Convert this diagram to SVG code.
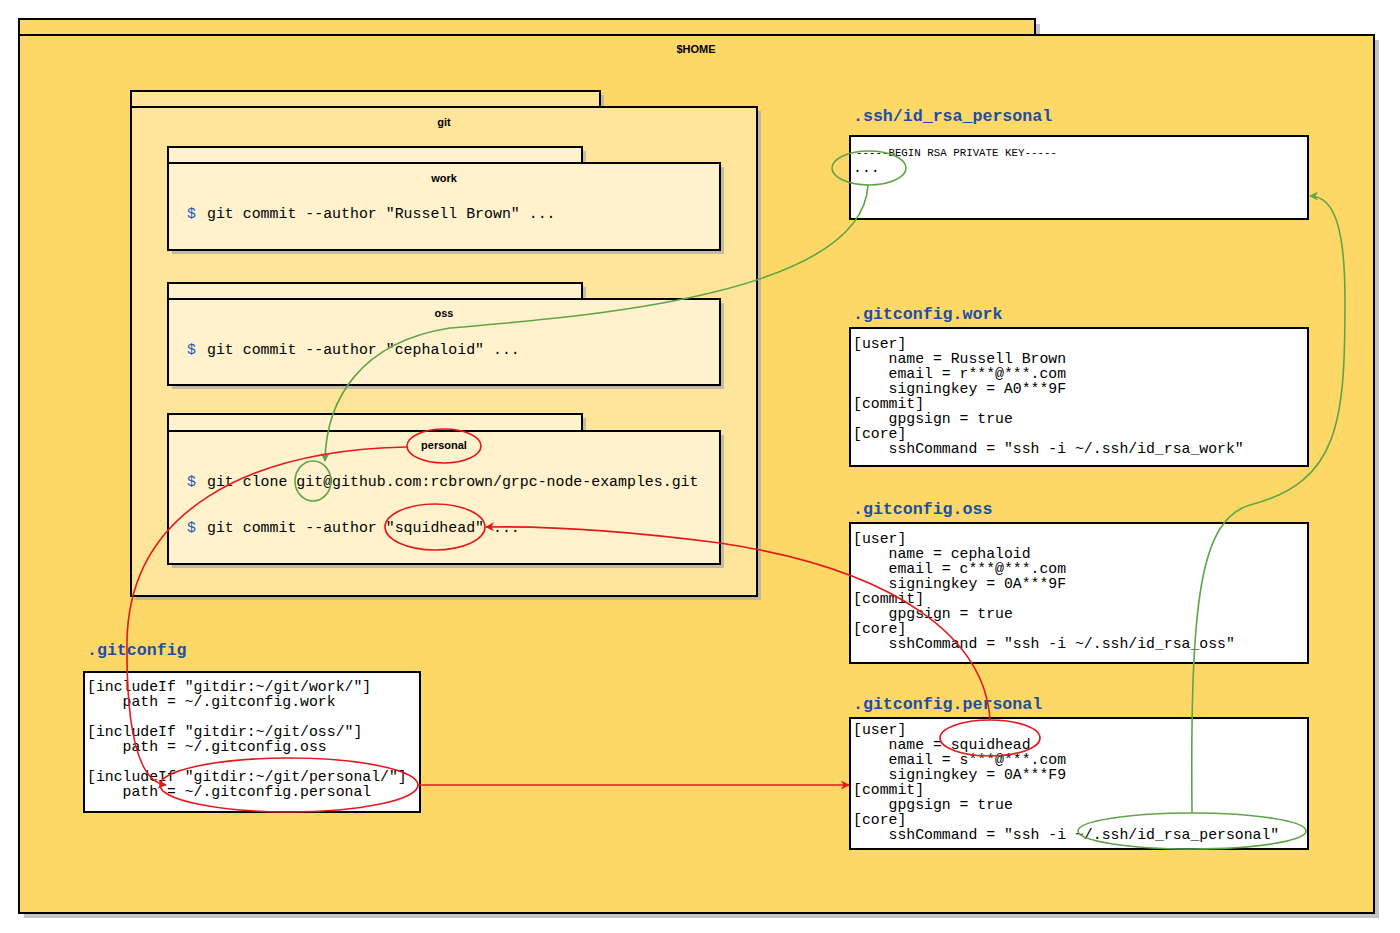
<svg xmlns="http://www.w3.org/2000/svg" width="1400" height="933" viewBox="0 0 1400 933">
<style>
.shadow{fill:#aaaaaa;opacity:0.7}
.home{fill:#FED866;stroke:#000;stroke-width:2}
.gitf{fill:#FFE599;stroke:#000;stroke-width:2}
.sub{fill:#FFF2CC;stroke:#000;stroke-width:2}
.box{fill:#fff;stroke:#000;stroke-width:2}
.flabel{font-family:"Liberation Sans",Arial,sans-serif;font-weight:bold;font-size:11px;text-anchor:middle;fill:#000}
.cmd{font-family:"Liberation Mono","Courier New",monospace;font-size:14.9px;fill:#000;white-space:pre}
.dollar{fill:#1c5bbf}
.conf{font-family:"Liberation Mono","Courier New",monospace;font-size:14.8px;fill:#000;white-space:pre}
.title{font-family:"Liberation Mono","Courier New",monospace;font-size:16.6px;font-weight:bold;fill:#1c4ea5}
.key{font-family:"Liberation Mono","Courier New",monospace;font-size:10.8px;fill:#000;white-space:pre}
.red{fill:none;stroke:#e3191c;stroke-width:1.6}
.green{fill:none;stroke:#5fa548;stroke-width:1.6}
</style>
<defs>
<marker id="ar" viewBox="0 0 10 10" refX="9" refY="5" markerWidth="9" markerHeight="9" markerUnits="userSpaceOnUse" orient="auto">
<path d="M0,0 L10,5 L0,10 L3,5 z" fill="#e3191c"/>
</marker>
<marker id="ag" viewBox="0 0 10 10" refX="9" refY="5" markerWidth="9" markerHeight="9" markerUnits="userSpaceOnUse" orient="auto">
<path d="M0,0 L10,5 L0,10 L3,5 z" fill="#5fa548"/>
</marker>
</defs>
<rect width="1400" height="933" fill="#fff"/>

<g id="home">
<rect class="shadow" x="24" y="24" width="1016" height="16"/>
<rect class="shadow" x="24" y="40" width="1355" height="878"/>
<rect class="home" x="19" y="19" width="1016" height="16"/>
<rect class="home" x="19" y="35" width="1355" height="878"/>
<text class="flabel" x="696" y="53">$HOME</text>
</g>

<g id="git">
<rect class="shadow" x="135" y="95" width="469" height="16"/>
<rect class="shadow" x="135" y="111" width="626" height="489"/>
<rect class="gitf" x="131" y="91" width="469" height="16"/>
<rect class="gitf" x="131" y="107" width="626" height="489"/>
<text class="flabel" x="444" y="126">git</text>
</g>

<g id="work">
<rect class="shadow" x="172" y="151" width="414" height="16"/>
<rect class="shadow" x="172" y="167" width="552" height="87"/>
<rect class="sub" x="168" y="147" width="414" height="16"/>
<rect class="sub" x="168" y="163" width="552" height="87"/>
<text class="flabel" x="444" y="182">work</text>
<text class="cmd dollar" x="187" y="218">$</text>
<text class="cmd" x="207" y="218">git commit --author "Russell Brown" ...</text>
</g>

<g id="oss">
<rect class="shadow" x="172" y="287" width="414" height="16"/>
<rect class="shadow" x="172" y="303" width="552" height="86"/>
<rect class="sub" x="168" y="283" width="414" height="16"/>
<rect class="sub" x="168" y="299" width="552" height="86"/>
<text class="flabel" x="444" y="317">oss</text>
<text class="cmd dollar" x="187" y="354">$</text>
<text class="cmd" x="207" y="354">git commit --author "cephaloid" ...</text>
</g>

<g id="personal">
<rect class="shadow" x="172" y="418" width="414" height="17"/>
<rect class="shadow" x="172" y="435" width="552" height="133"/>
<rect class="sub" x="168" y="414" width="414" height="17"/>
<rect class="sub" x="168" y="431" width="552" height="133"/>
<text class="flabel" x="444" y="449">personal</text>
<text class="cmd dollar" x="187" y="486">$</text>
<text class="cmd" x="207" y="486">git clone git@github.com:rcbrown/grpc-node-examples.git</text>
<text class="cmd dollar" x="187" y="532">$</text>
<text class="cmd" x="207" y="532">git commit --author "squidhead" ...</text>
</g>

<g id="ssh_key">
<text class="title" x="853" y="121">.ssh/id_rsa_personal</text>
<rect class="box" x="850" y="136" width="458" height="83"/>
<text class="key" x="856" y="156">-----BEGIN RSA PRIVATE KEY-----</text>
<text class="conf" x="853" y="172">...</text>
</g>

<g id="gitconfig_work">
<text class="title" x="853" y="319">.gitconfig.work</text>
<rect class="box" x="850" y="328" width="458" height="138"/>
<text class="conf" x="853" y="348">[user]</text>
<text class="conf" x="853" y="363">    name = Russell Brown</text>
<text class="conf" x="853" y="378">    email = r***@***.com</text>
<text class="conf" x="853" y="393">    signingkey = A0***9F</text>
<text class="conf" x="853" y="408">[commit]</text>
<text class="conf" x="853" y="423">    gpgsign = true</text>
<text class="conf" x="853" y="438">[core]</text>
<text class="conf" x="853" y="453">    sshCommand = "ssh -i ~/.ssh/id_rsa_work"</text>
</g>

<g id="gitconfig_oss">
<text class="title" x="853" y="514">.gitconfig.oss</text>
<rect class="box" x="850" y="523" width="458" height="140"/>
<text class="conf" x="853" y="543">[user]</text>
<text class="conf" x="853" y="558">    name = cephaloid</text>
<text class="conf" x="853" y="573">    email = c***@***.com</text>
<text class="conf" x="853" y="588">    signingkey = 0A***9F</text>
<text class="conf" x="853" y="603">[commit]</text>
<text class="conf" x="853" y="618">    gpgsign = true</text>
<text class="conf" x="853" y="633">[core]</text>
<text class="conf" x="853" y="648">    sshCommand = "ssh -i ~/.ssh/id_rsa_oss"</text>
</g>

<g id="gitconfig_personal">
<text class="title" x="853" y="709">.gitconfig.personal</text>
<rect class="box" x="850" y="718" width="458" height="131"/>
<text class="conf" x="853" y="734">[user]</text>
<text class="conf" x="853" y="749">    name = squidhead</text>
<text class="conf" x="853" y="764">    email = s***@***.com</text>
<text class="conf" x="853" y="779">    signingkey = 0A***F9</text>
<text class="conf" x="853" y="794">[commit]</text>
<text class="conf" x="853" y="809">    gpgsign = true</text>
<text class="conf" x="853" y="824">[core]</text>
<text class="conf" x="853" y="839">    sshCommand = "ssh -i ~/.ssh/id_rsa_personal"</text>
</g>

<g id="gitconfig">
<text class="title" x="87" y="655">.gitconfig</text>
<rect class="box" x="84" y="672" width="336" height="140"/>
<text class="conf" x="87" y="691">[includeIf "gitdir:~/git/work/"]</text>
<text class="conf" x="87" y="706">    path = ~/.gitconfig.work</text>
<text class="conf" x="87" y="736">[includeIf "gitdir:~/git/oss/"]</text>
<text class="conf" x="87" y="751">    path = ~/.gitconfig.oss</text>
<text class="conf" x="87" y="781">[includeIf "gitdir:~/git/personal/"]</text>
<text class="conf" x="87" y="796">    path = ~/.gitconfig.personal</text>
</g>

<g id="connectors">
<ellipse class="green" cx="869" cy="168" rx="37" ry="17"/>
<ellipse class="green" cx="313" cy="481" rx="18" ry="20"/>
<ellipse class="green" cx="1192" cy="831" rx="114" ry="18"/>
<ellipse class="red" cx="444" cy="446" rx="37" ry="17"/>
<ellipse class="red" cx="435" cy="527" rx="50" ry="23"/>
<ellipse class="red" cx="289" cy="785" rx="129" ry="27"/>
<ellipse class="red" cx="990" cy="738" rx="50" ry="18"/>
<path class="green" d="M868 185 C862 300 560 318 450 328 C360 342 326 400 325 461" marker-end="url(#ag)"/>
<path class="green" d="M1192 813 C1190 600 1200 520 1250 505 C1340 482 1345 420 1345 300 C1345 230 1335 196 1310 196" marker-end="url(#ag)"/>
<path class="red" d="M407 447 C250 450 130 510 127 640 C126 730 138 782 166 785" marker-end="url(#ar)"/>
<path class="red" d="M418 785 L849 785" marker-end="url(#ar)"/>
<path class="red" d="M990 720 C985 640 900 570 720 543 C620 530 540 526 486 527" marker-end="url(#ar)"/>
</g>
</svg>
